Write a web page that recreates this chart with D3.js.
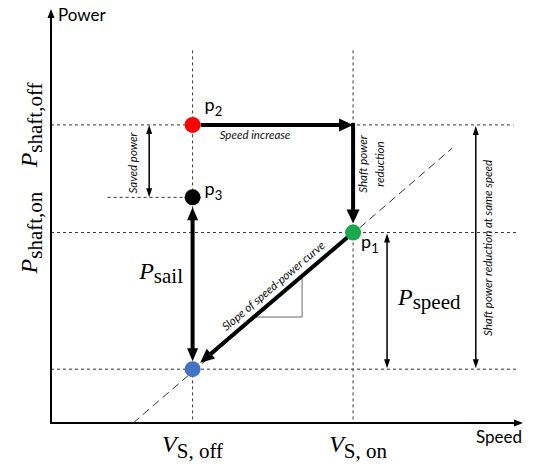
<!DOCTYPE html>
<html><head><meta charset="utf-8">
<script src="https://cdn.jsdelivr.net/npm/d3@7"></script>
<style>body{margin:0;background:#fff} svg{display:block}</style>
</head><body>
<svg id="chart" width="544" height="469"></svg>
<script>
// ---- data (conceptual units: speed 0..100, power 0..100) ----
const speedSubs = ["S, off", "S, on"];
const speedValues = [30, 64];
const powerSubs = ["shaft,off", "shaft,on"];
const powerValues = [72, 46];
const pointNames = ["p", "p", "p", ""];
const pointSubs = ["2", "3", "1", ""];
const pointSpeeds = [30, 30, 64, 30];
const pointPowers = [72, 54.5, 46, 13];
const pointColors = ["#ff0000", "#000000", "#17a94b", "#4472c4"];
const curveSpeeds = [17.4, 85];
const curvePowers = [0, 66.4];
const axisTitles = ["Speed", "Power"];
const notes = ["Speed increase", "Shaft power", "reduction", "Saved power",
  "Shaft power reduction at same speed", "Slope of speed-power curve"];

const svg = d3.select("#chart");
const x = d3.scaleLinear().domain([0, 100]).range([51, 523]);
const y = d3.scaleLinear().domain([0, 100]).range([423, 9]);
const SANS = "Lato, 'Open Sans', sans-serif";
const SERIF = "'Liberation Serif', 'DejaVu Serif', serif";

// ---- arrow helper ----
function head(g, tx, ty, ux, uy, hl, hw) {
  const nx = -uy, ny = ux;
  const bx = tx - ux * hl, by = ty - uy * hl;
  g.append("path")
    .attr("d", `M${tx},${ty}L${bx + nx * hw / 2},${by + ny * hw / 2}L${bx - nx * hw / 2},${by - ny * hw / 2}Z`)
    .attr("fill", "#000");
}
function arrow(g, x1, y1, x2, y2, o) {
  const dx = x2 - x1, dy = y2 - y1, L = Math.hypot(dx, dy), ux = dx / L, uy = dy / L;
  const s = o.both ? o.hl * 0.8 : 0, e = o.hl * 0.8;
  g.append("line")
    .attr("x1", x1 + ux * s).attr("y1", y1 + uy * s)
    .attr("x2", x2 - ux * e).attr("y2", y2 - uy * e)
    .attr("stroke", "#000").attr("stroke-width", o.w);
  head(g, x2, y2, ux, uy, o.hl, o.hw);
  if (o.both) head(g, x1, y1, -ux, -uy, o.hl, o.hw);
}

// ---- dashed guide lines ----
const guides = svg.append("g").attr("stroke", "#333").attr("stroke-width", 1).attr("stroke-dasharray", "3,3");
guides.append("line").attr("x1", x(0)).attr("x2", x(98)).attr("y1", y(powerValues[0])).attr("y2", y(powerValues[0]));
guides.append("line").attr("x1", x(12)).attr("x2", x(speedValues[0])).attr("y1", y(pointPowers[1])).attr("y2", y(pointPowers[1]));
guides.append("line").attr("x1", x(0)).attr("x2", x(99)).attr("y1", y(powerValues[1])).attr("y2", y(powerValues[1]));
guides.append("line").attr("x1", x(0)).attr("x2", x(99)).attr("y1", y(pointPowers[3])).attr("y2", y(pointPowers[3]));
speedValues.forEach(v => {
  guides.append("line").attr("x1", x(v)).attr("x2", x(v)).attr("y1", y(90)).attr("y2", y(0));
});
svg.append("line")
  .attr("x1", x(curveSpeeds[0])).attr("y1", y(curvePowers[0]))
  .attr("x2", x(curveSpeeds[1])).attr("y2", y(curvePowers[1]))
  .attr("stroke", "#333").attr("stroke-width", 1).attr("stroke-dasharray", "8,5");

// ---- axes ----
const ax = svg.append("g");
ax.append("line").attr("x1", x(0)).attr("y1", y(0)).attr("x2", x(100) - 8).attr("y2", y(0)).attr("stroke", "#000").attr("stroke-width", 2);
head(ax, x(100), y(0), 1, 0, 9, 7);
ax.append("line").attr("x1", x(0)).attr("y1", y(0) + 1).attr("x2", x(0)).attr("y2", y(100) + 8).attr("stroke", "#000").attr("stroke-width", 2);
head(ax, x(0), y(100), 0, -1, 9, 7);
ax.append("text").attr("x", x(100) - 1).attr("y", y(0) + 20).attr("text-anchor", "end")
  .attr("font-family", SANS).attr("font-size", 17).text(axisTitles[0]);
ax.append("text").attr("x", x(0) + 7).attr("y", y(100) + 12)
  .attr("font-family", SANS).attr("font-size", 17).text(axisTitles[1]);

// ---- slope triangle ----
const m = (pointPowers[2] - pointPowers[3]) / (pointSpeeds[2] - pointSpeeds[3]);
const triV = 53.2, triP = 25.6;
const lineAt = v => pointPowers[3] + (v - pointSpeeds[3]) * m;
const vAt = p => pointSpeeds[3] + (p - pointPowers[3]) / m;
svg.append("path")
  .attr("d", `M${x(triV)},${y(lineAt(triV))}L${x(triV)},${y(triP)}L${x(vAt(triP))},${y(triP)}`)
  .attr("fill", "none").attr("stroke", "#666").attr("stroke-width", 1);

// ---- thick arrows ----
const thick = { w: 4, hl: 14, hw: 13 };
const R = 8;
const arr = svg.append("g");
arrow(arr, x(pointSpeeds[0]) + R, y(pointPowers[0]), x(speedValues[1]), y(pointPowers[0]), thick);
arrow(arr, x(speedValues[1]), y(pointPowers[0]) - 2, x(pointSpeeds[2]), y(pointPowers[2]) - R - 1, thick);
{
  const x1 = x(pointSpeeds[2]), y1 = y(pointPowers[2]), x2 = x(pointSpeeds[3]), y2 = y(pointPowers[3]);
  const L = Math.hypot(x2 - x1, y2 - y1);
  arrow(arr, x1, y1, x2 - (x2 - x1) / L * (R + 2), y2 - (y2 - y1) / L * (R + 2), thick);
}
arrow(arr, x(pointSpeeds[3]), y(pointPowers[1]) + R + 2, x(pointSpeeds[3]), y(pointPowers[3]) - R, { w: 4, hl: 13, hw: 11, both: true });

// ---- thin arrows ----
const thin = { w: 1.5, hl: 9, hw: 6, both: true };
arrow(arr, x(20.8), y(powerValues[0]), x(20.8), y(pointPowers[1]), thin);
arrow(arr, x(71.2), y(powerValues[1]) + 1, x(71.2), y(pointPowers[3]) - 1, thin);
arrow(arr, x(90), y(powerValues[0]) + 1, x(90), y(pointPowers[3]) - 1, thin);

// ---- points ----
svg.append("g").selectAll("circle")
  .data(pointSpeeds.map((v, i) => ({ v, p: pointPowers[i], c: pointColors[i] })))
  .join("circle")
  .attr("cx", d => x(d.v)).attr("cy", d => y(d.p)).attr("r", R).attr("fill", d => d.c);

const plab = [[12, -14], [12, -2], [8, 15]];
pointNames.forEach((n, i) => {
  if (!n) return;
  const t = svg.append("text")
    .attr("x", x(pointSpeeds[i]) + plab[i][0]).attr("y", y(pointPowers[i]) + plab[i][1])
    .attr("font-family", SANS).attr("font-size", 18);
  t.append("tspan").text(n);
  t.append("tspan").attr("dy", 5).attr("font-size", 13).text(pointSubs[i]);
});

// ---- math labels ----
function mathLabel(g, main, sub, attrs, anchor, subDy) {
  const t = g.append("text").attr("font-family", SERIF).attr("text-anchor", anchor);
  Object.entries(attrs).forEach(([k, v]) => t.attr(k, v));
  t.append("tspan").attr("font-style", "italic").attr("font-size", 24).text(main);
  t.append("tspan").attr("font-size", 21).attr("dy", subDy).text(sub);
  return t;
}
powerValues.forEach((p, i) => {
  mathLabel(svg, "P", powerSubs[i], { transform: `translate(37,${y(p)}) rotate(-90)` }, "middle", 5);
});
mathLabel(svg, "V", speedSubs[0], { x: x(speedValues[0]), y: 452 }, "middle", 6);
mathLabel(svg, "V", speedSubs[1], { x: x(speedValues[1]) + 5, y: 452 }, "middle", 6);
mathLabel(svg, "P", "sail", { x: 183, y: 279 }, "end", 4);
mathLabel(svg, "P", "speed", { x: 398, y: 305 }, "start", 4);

// ---- italic notes ----
function note(txt, tx, ty, rot) {
  svg.append("text").attr("transform", `translate(${tx},${ty}) rotate(${rot})`)
    .attr("text-anchor", "middle").attr("font-family", SANS).attr("font-style", "italic")
    .attr("font-size", 11.5).attr("fill", "#111").text(txt);
}
note(notes[0], 255, 139, 0);
note(notes[1], 367, 164, -90);
note(notes[2], 384, 164, -90);
note(notes[3], 137, 163, -90);
note(notes[4], 492, 248, -90);
{
  const ang = Math.atan2(y(pointPowers[2]) - y(pointPowers[3]), x(pointSpeeds[2]) - x(pointSpeeds[3])) * 180 / Math.PI;
  note(notes[5], 276, 289, ang);
}
</script>
</body></html>
